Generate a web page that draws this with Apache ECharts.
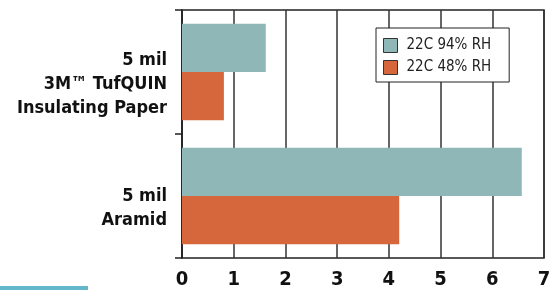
<!DOCTYPE html>
<html>
<head>
<meta charset="utf-8">
<script src="https://cdn.jsdelivr.net/npm/echarts@6/dist/echarts.min.js"></script>
<style>
  html, body { margin: 0; padding: 0; background: #fff; }
  #chart { width: 558px; height: 290px; }
</style>
</head>
<body>
<div id="chart"></div>
<script>
var categories = ['5 mil\n3M™ TufQUIN\nInsulating Paper', '5 mil\nAramid'];
var seriesNames = ['22C 94% RH', '22C 48% RH'];
var humid = [1.62, 6.57];
var dry = [0.81, 4.2];
var xTicks = [0, 1, 2, 3, 4, 5, 6, 7];

var fontFam = '"Liberation Sans Narrow", "DejaVu Sans Condensed", "Liberation Sans", sans-serif';

var chart = echarts.init(document.getElementById('chart'));

var option = {
    animation: false,
    grid: {
        left: 182, right: 14, top: 10, bottom: 31,
        show: true, borderColor: '#222', borderWidth: 1.5
    },
    legend: {
        data: seriesNames,
        orient: 'vertical',
        left: 376, top: 28,
        padding: [10, 18, 7, 7],
        borderColor: '#222', borderWidth: 1,
        backgroundColor: '#fff',
        itemWidth: 14, itemHeight: 14, itemGap: 7,
        icon: 'rect',
        itemStyle: { borderColor: '#333', borderWidth: 1 },
        textStyle: { fontFamily: fontFam, fontSize: 15, color: '#222', padding: [0, 0, 0, 4] }
    },
    xAxis: {
        type: 'value',
        min: xTicks[0], max: xTicks[xTicks.length - 1], interval: 1,
        axisLine: { show: false },
        axisTick: { show: false },
        splitLine: { show: true, lineStyle: { color: '#333', width: 1.5 } },
        axisLabel: {
            margin: 12,
            fontFamily: fontFam, fontSize: 20, fontWeight: 'bold', color: '#111'
        }
    },
    yAxis: {
        type: 'category',
        inverse: true,
        data: categories,
        axisLine: { show: true, lineStyle: { color: '#222', width: 1.5 } },
        axisTick: { show: true, length: 7, lineStyle: { color: '#222', width: 1.5 } },
        axisLabel: {
            margin: 15,
            fontFamily: fontFam, fontSize: 18, fontWeight: 'bold', color: '#111',
            lineHeight: 24, align: 'right',
            // a blank first line pushes each label half a line down, as in the source
            formatter: function (v) { return ' \n' + v; }
        }
    },
    series: [
        {
            name: seriesNames[0], type: 'bar', data: humid,
            barGap: '0%', barCategoryGap: '22%',
            itemStyle: { color: '#90b7b8' }
        },
        {
            name: seriesNames[1], type: 'bar', data: dry,
            itemStyle: { color: '#d6673c' }
        }
    ],
    graphic: [
        { type: 'rect', left: 0, top: 286, shape: { width: 88, height: 4 }, style: { fill: '#63b7cb' } }
    ]
};

chart.setOption(option);
</script>
</body>
</html>
